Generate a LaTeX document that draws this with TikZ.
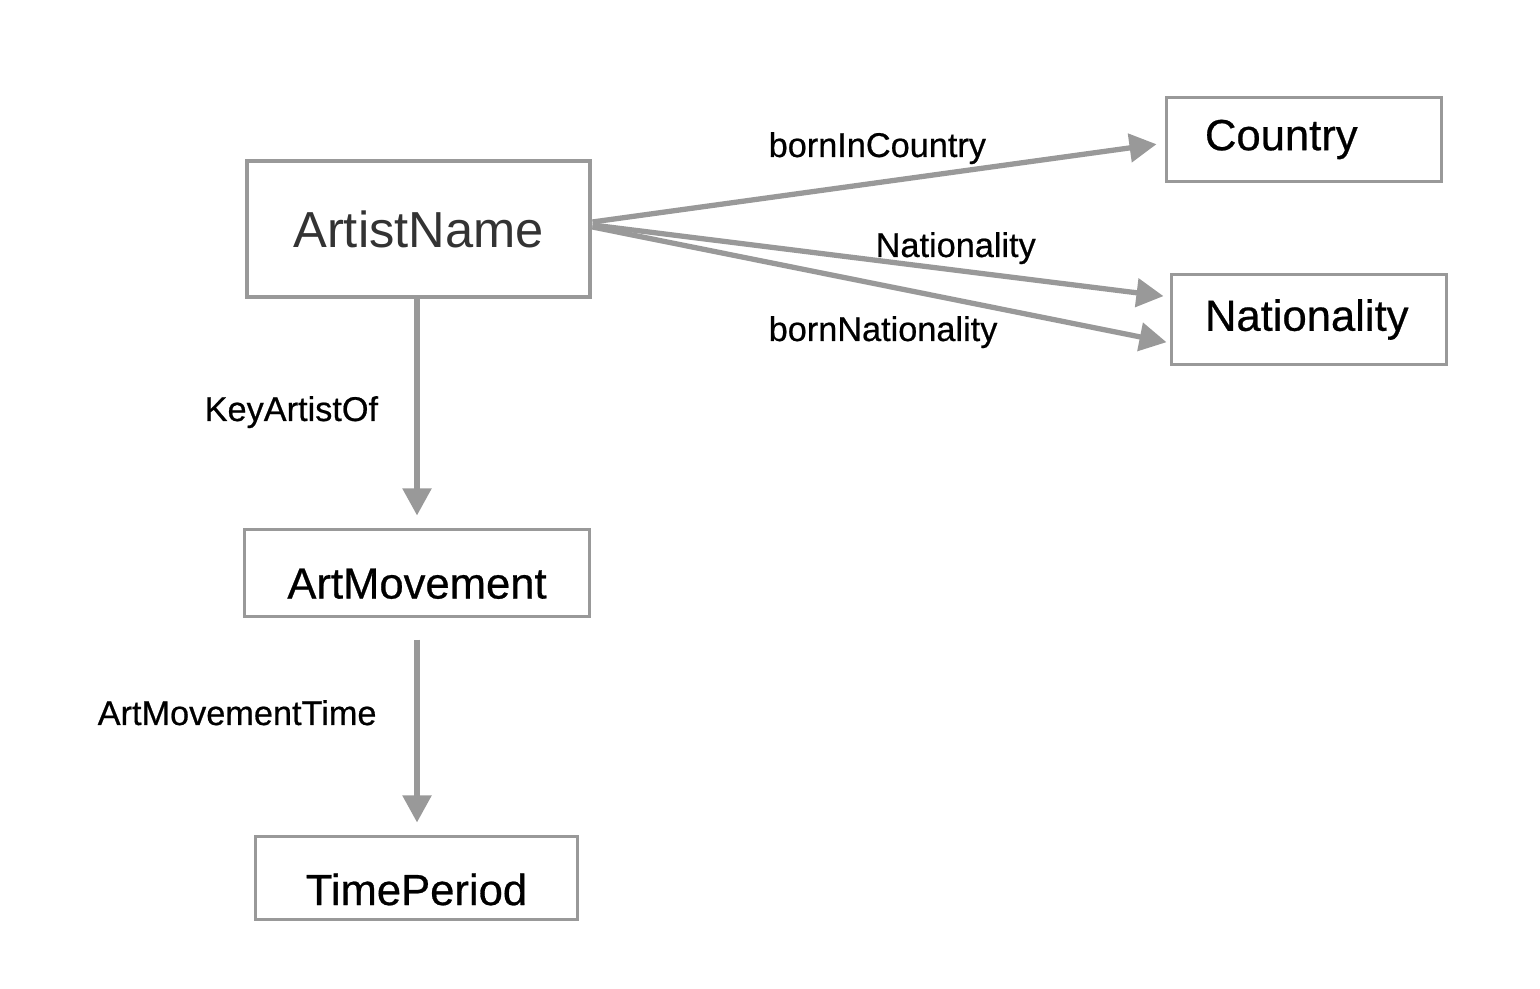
\documentclass[tikz,border=0pt]{standalone}
\usepackage{fontspec}
\setmainfont{Liberation Sans}
\newfontfamily\heavyfont[FakeBold=0.6]{Liberation Sans}
\usetikzlibrary{arrows.meta}
\definecolor{edgegray}{RGB}{153,153,153}
\definecolor{namegray}{RGB}{51,51,51}

\begin{document}
\begin{tikzpicture}[x=0.01cm, y=-0.01cm,
		box/.style={draw=edgegray, line width=0.85pt, inner sep=0pt, font=\heavyfont\fontsize{12.4}{14}\selectfont},
		rel/.style={draw=edgegray, line width=1.5pt, -{Triangle[length=0.27cm,width=0.28cm]}},
		lbl/.style={anchor=base west, inner sep=0pt, font=\heavyfont\fontsize{9.75}{11}\selectfont}]
	\useasboundingbox (0,0) rectangle (1540,989);
	\node [box, line width=1.35pt, minimum width=3.43cm, minimum height=1.36cm, text=namegray, font=\fontsize{14.4}{17}\selectfont] (artist) at (418.5,229) {ArtistName};
	\node [box, text width=1.98cm, inner xsep=0.38cm, align=left, minimum height=0.83cm] (country) at (1304,139.5) {Country};
	\node [box, text width=2.08cm, inner xsep=0.33cm, align=left, minimum height=0.89cm] (nation) at (1309,319.5) {Nationality};
	\node [box, minimum width=3.44cm, minimum height=0.86cm, text height=0.51cm, text depth=0pt] (movement) at (417,573) {ArtMovement};
	\node [box, minimum width=3.21cm, minimum height=0.82cm, text height=0.54cm, text depth=0pt] (period) at (416.5,878) {TimePeriod};
	\draw [rel, shorten >=0.09cm] ([yshift=0.07cm]artist.east) -- ([yshift=-0.035cm]country.west);
	\draw [rel, shorten >=0.07cm] ([yshift=0.04cm]artist.east) -- ([yshift=0.225cm]nation.west);
	\draw [rel, shorten >=0.04cm] ([yshift=0.02cm]artist.east) -- ([yshift=-0.235cm]nation.west);
	\draw [rel, shorten >=0.13cm] (movement.north |- artist.south) -- (movement.north);
	\draw [rel, shorten <=0.22cm, shorten >=0.13cm] (movement.south) -- (movement.south |- period.north);
	\node [lbl] (lcountry) at (768,157) {bornInCountry};
	\node [lbl] (lnation) at (875,257) {Nationality};
	\node [lbl] (lborn) at (768,341) {bornNationality};
	\node [lbl] (lkey) at (204,421) {KeyArtistOf};
	\node [lbl] (ltime) at (97,725) {ArtMovementTime};
\end{tikzpicture}
\end{document}
